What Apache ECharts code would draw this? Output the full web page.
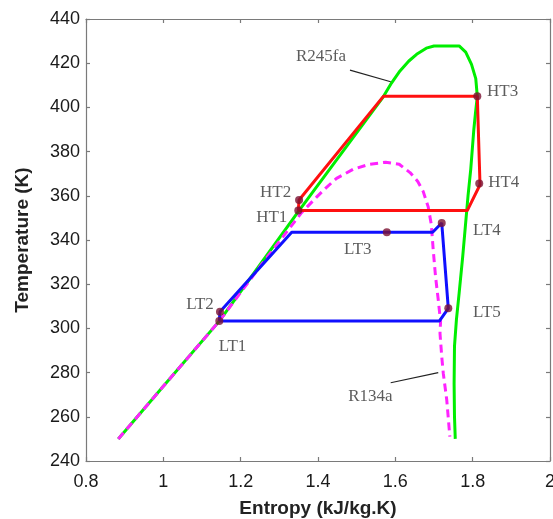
<!DOCTYPE html>
<html>
<head>
<meta charset="utf-8">
<script src="https://cdn.jsdelivr.net/npm/echarts@6/dist/echarts.min.js"></script>
<style>
html,body{margin:0;padding:0;background:#fff;}
#c{width:553px;height:519px;}
</style>
</head>
<body>
<div id="c"></div>
<script>
// ---- data (entropy kJ/kg.K, temperature K) ----
var xTicks = [0.8, 1.0, 1.2, 1.4, 1.6, 1.8, 2.0];
var yTicks = [240, 260, 280, 300, 320, 340, 360, 380, 400, 420, 440];

var r245faDome = [
  [0.8835,250],[1.0,273.8],[1.1447,303.3],[1.25,328.8],[1.349,352.8],[1.45,376.7],
  [1.5688,404.8],[1.59,411],[1.612,416.5],[1.635,421],[1.655,424],[1.68,426.8],
  [1.70,427.8],[1.765,427.8],[1.782,425],[1.797,419.5],[1.808,413],[1.812,405],
  [1.807,397],[1.803,390],[1.795,372],[1.788,360],[1.782,348],[1.774,332],
  [1.765,316],[1.758,304],[1.753,292],[1.752,275],[1.753,260],[1.755,250]
];
var r134aDome = [
  [0.8835,250],[1.0,273.8],[1.1447,303.3],[1.25,328],[1.358,352.5],[1.397,359.5],
  [1.42,363.5],[1.448,367.9],[1.491,372],[1.534,374.3],[1.575,375.2],[1.61,374.3],
  [1.638,370.5],[1.658,366.5],[1.672,362],[1.685,355],[1.693,347],[1.698,335.5],
  [1.704,323.4],[1.711,312.9],[1.717,303],[1.7155,297.8],[1.72,287.2],[1.724,279.7],
  [1.733,267.6],[1.741,251]
];
var htCycle = [
  [1.349,353.3],[1.351,358.1],[1.569,405],[1.812,405],[1.819,365],[1.786,353.3],[1.349,353.3]
];
var ltCycle = [
  [1.1447,303.3],[1.1465,307.5],[1.332,343.5],[1.6965,343.5],[1.72,347.7],[1.737,309.1],[1.7137,303.3],[1.1447,303.3]
];
var statePoints = [
  ['HT1',1.349,353.3],['HT2',1.351,358.1],['HT3',1.812,405],['HT4',1.817,365.6],
  ['LT1',1.1447,303.3],['LT2',1.1465,307.5],['LT3',1.578,343.5],['LT4',1.72,347.7],['LT5',1.737,309.1]
];
// label anchors (left-middle of the text)
var labelAnchors = [
  ['HT1',1.240,350.2],['HT2',1.250,361.7],['HT3',1.837,407.4],['HT4',1.840,365.8],
  ['LT1',1.143,292.0],['LT2',1.059,310.8],['LT3',1.467,335.5],['LT4',1.801,344.1],['LT5',1.801,307.0],
  ['R245fa',1.343,422.9],['R134a',1.478,269.1]
];
var leaderR245fa = [[1.4827,416.9],[1.588,411.6]];
var leaderR134a = [[1.588,275.4],[1.711,280.0]];

var chart = echarts.init(document.getElementById('c'), null, {renderer:'canvas'});

var axisLineStyle = {color:'#7a7a7a', width:1.2};
var tickLabelStyle = {fontFamily:'Liberation Sans, Arial, sans-serif', fontSize:18, color:'#1a1a1a'};

function fmt(v){ return String(Math.round(v*10)/10); }

var option = {
  animation:false,
  backgroundColor:'#fff',
  grid:{left:86, right:3, top:19, bottom:58, containLabel:false, outerBoundsMode:'none'},
  xAxis:[{
    type:'value', min:xTicks[0], max:xTicks[xTicks.length-1], interval:0.2,
    name:'Entropy (kJ/kg.K)', nameLocation:'middle', nameGap:38,
    nameTextStyle:{fontFamily:'Liberation Sans, Arial, sans-serif', fontSize:19, fontWeight:'bold', color:'#222'},
    axisLine:{show:true, lineStyle:axisLineStyle},
    axisTick:{show:true, inside:true, length:4, lineStyle:axisLineStyle},
    axisLabel:Object.assign({margin:12, formatter:fmt, hideOverlap:false}, tickLabelStyle),
    splitLine:{show:false}
  },{
    type:'value', position:'top', min:xTicks[0], max:xTicks[xTicks.length-1], interval:0.2,
    axisLine:{show:true, lineStyle:axisLineStyle},
    axisTick:{show:true, inside:true, length:4, lineStyle:axisLineStyle},
    axisLabel:{show:false}, splitLine:{show:false}
  }],
  yAxis:[{
    type:'value', min:yTicks[0], max:yTicks[yTicks.length-1], interval:20,
    name:'Temperature (K)', nameLocation:'middle', nameGap:54,
    nameTextStyle:{fontFamily:'Liberation Sans, Arial, sans-serif', fontSize:19, fontWeight:'bold', color:'#222'},
    axisLine:{show:true, lineStyle:axisLineStyle},
    axisTick:{show:true, inside:true, length:4, lineStyle:axisLineStyle},
    axisLabel:Object.assign({margin:6}, tickLabelStyle),
    splitLine:{show:false}
  },{
    type:'value', position:'right', min:yTicks[0], max:yTicks[yTicks.length-1], interval:20,
    axisLine:{show:true, lineStyle:axisLineStyle},
    axisTick:{show:true, inside:true, length:4, lineStyle:axisLineStyle},
    axisLabel:{show:false}, splitLine:{show:false}
  }],
  series:[
    {type:'line', name:'R245fa', data:r245faDome, showSymbol:false, symbol:'none', z:2,
     lineStyle:{color:'#00ee00', width:3}},
    {type:'line', name:'R134a', data:r134aDome, showSymbol:false, symbol:'none', z:3,
     lineStyle:{color:'#ff22ff', width:3, type:[8,5]}},
    {type:'line', name:'LT', data:ltCycle, showSymbol:false, symbol:'none', z:4,
     lineStyle:{color:'#1010ff', width:3}},
    {type:'line', name:'HT', data:htCycle, showSymbol:false, symbol:'none', z:5,
     lineStyle:{color:'#ff1010', width:3}},
    {type:'line', data:leaderR245fa, showSymbol:false, symbol:'none', z:5,
     lineStyle:{color:'#222', width:1.2}},
    {type:'line', data:leaderR134a, showSymbol:false, symbol:'none', z:5,
     lineStyle:{color:'#222', width:1.2}},
    {type:'scatter', z:6, symbolSize:8, itemStyle:{color:'#7a1232'},
     data:statePoints.map(function(p){return {name:p[0], value:[p[1],p[2]]};})},
    {type:'scatter', z:7, symbolSize:0, silent:true,
     label:{show:true, position:'right', distance:0, formatter:function(p){return p.name;},
       fontFamily:'Liberation Serif, Times New Roman, serif', fontSize:17, color:'#333'},
     data:labelAnchors.map(function(p){return {name:p[0], value:[p[1],p[2]]};})}
  ]
};
chart.setOption(option);
</script>
</body>
</html>
